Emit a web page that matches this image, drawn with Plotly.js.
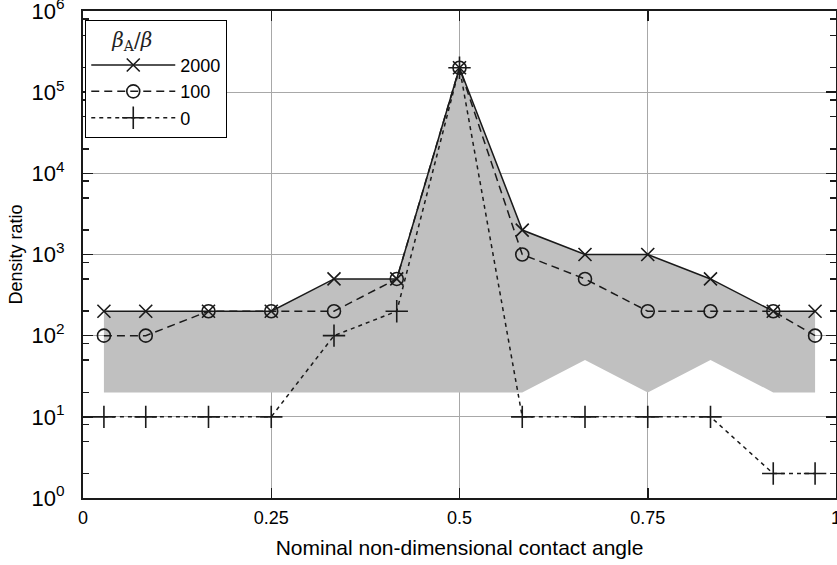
<!DOCTYPE html>
<html>
<head>
<meta charset="utf-8">
<script src="https://cdn.plot.ly/plotly-3.0.1.min.js"></script>
<style>html,body{margin:0;padding:0;background:#fff;}#chart{width:837px;height:565px;}</style>
</head>
<body>
<div id="chart"></div>
<script>
// Nominal non-dimensional contact angle (5°..175° / 180°)
var angles = [5/180, 15/180, 30/180, 45/180, 60/180, 75/180, 90/180, 105/180, 120/180, 135/180, 150/180, 165/180, 175/180];
// Density ratio series for beta_A/beta
var ratio2000 = [200, 200, 200, 200, 500, 500, 200000, 2000, 1000, 1000, 500, 200, 200];
var ratio100  = [100, 100, 200, 200, 200, 500, 200000, 1000, 500, 200, 200, 200, 100];
var ratio0    = [10, 10, 10, 10, 100, 200, 200000, 10, 10, 10, 10, 2, 2];
// Lower edge of the shaded band
var bandLower = [20, 20, 20, 20, 20, 20, 20, 20, 50, 20, 50, 20, 20];
var seriesNames = ['2000', '100', '0'];
var legendTitle = '<i>β</i><sub>A</sub>/<i>β</i>';
// Axis ticks
var xTickVals = [0, 0.25, 0.5, 0.75, 1];
var xTickText = ['0', '0.25', '0.5', '0.75', '1'];
var yDecades = [0, 1, 2, 3, 4, 5, 6];
var yMinorMult = [2, 5, 8];

var yTickVals = yDecades.map(function(e){ return Math.pow(10, e); });
var yTickText = yDecades.map(function(e){ return '10<sup>' + e + '</sup>'; });
var yMinorVals = [];
yDecades.slice(0, -1).forEach(function(e){
  yMinorMult.forEach(function(m){ yMinorVals.push(m * Math.pow(10, e)); });
});

var lineColor = '#1a1a1a';
var traces = [
  {x: angles, y: bandLower, mode: 'lines', line: {width: 0, color: 'rgba(0,0,0,0)'}, showlegend: false, hoverinfo: 'skip'},
  {x: angles, y: ratio2000, mode: 'lines', line: {width: 0, color: 'rgba(0,0,0,0)'}, fill: 'tonexty', fillcolor: '#c0c0c0', showlegend: false, hoverinfo: 'skip'},
  {x: angles, y: ratio2000, name: seriesNames[0], mode: 'lines+markers',
   line: {color: lineColor, width: 1.5},
   marker: {symbol: 'x-thin', size: 13, color: lineColor, line: {color: lineColor, width: 1.6}}},
  {x: angles, y: ratio100, name: seriesNames[1], mode: 'lines+markers',
   line: {color: lineColor, width: 1.5, dash: '8px,5px'},
   marker: {symbol: 'circle-open', size: 13, color: lineColor, line: {color: lineColor, width: 1.6}}},
  {x: angles, y: ratio0, name: seriesNames[2], mode: 'lines+markers',
   line: {color: lineColor, width: 1.5, dash: '4px,4px'},
   marker: {symbol: 'cross-thin', size: 16, color: lineColor, line: {color: lineColor, width: 1.6}}}
];

var fam = 'Liberation Sans, Arial, sans-serif';
var layout = {
  width: 837, height: 565,
  margin: {l: 83, r: 1, t: 11, b: 67, pad: 0},
  paper_bgcolor: '#fff', plot_bgcolor: '#fff',
  font: {family: fam, size: 16, color: '#000'},
  showlegend: true,
  xaxis: {
    range: [0, 1], tickvals: xTickVals, ticktext: xTickText,
    showgrid: true, gridcolor: '#a8a8a8', gridwidth: 1, zeroline: false,
    showline: true, linecolor: '#1a1a1a', linewidth: 2, mirror: 'ticks',
    ticks: 'inside', ticklen: 10, tickwidth: 1.5, tickcolor: '#1a1a1a',
    ticklabeloverflow: 'allow', ticklabelstandoff: 2,
    tickfont: {family: fam, size: 18, color: '#000'},
    title: {text: 'Nominal non-dimensional contact angle', font: {family: fam, size: 21, color: '#000'}, standoff: 14},
    automargin: false
  },
  yaxis: {
    type: 'log', range: [0, 6], tickvals: yTickVals, ticktext: yTickText,
    showgrid: true, gridcolor: '#a8a8a8', gridwidth: 1, zeroline: false,
    showline: true, linecolor: '#1a1a1a', linewidth: 2, mirror: 'ticks',
    ticks: 'inside', ticklen: 10, tickwidth: 1.5, tickcolor: '#1a1a1a',
    ticklabeloverflow: 'allow', ticklabelstandoff: 12,
    minor: {tickvals: yMinorVals, ticks: 'inside', ticklen: 6, tickwidth: 1.5, tickcolor: '#1a1a1a', showgrid: false},
    tickfont: {family: fam, size: 22, color: '#000'},
    title: {text: 'Density ratio', font: {family: fam, size: 18, color: '#000'}, standoff: 4},
    automargin: false
  },
  legend: {
    x: 0.003, y: 0.982, xanchor: 'left', yanchor: 'top',
    traceorder: 'normal',
    bgcolor: '#fff', bordercolor: '#000', borderwidth: 1,
    font: {family: fam, size: 18, color: '#000'},
    itemwidth: 84, tracegroupgap: 0,
    title: {text: '\u200b\u2003\u2009' + legendTitle, side: 'top', font: {family: 'DejaVu Serif, Liberation Serif, serif', size: 20, color: '#222'}}
  }
};

Plotly.newPlot('chart', traces, layout, {staticPlot: true, displayModeBar: false});
</script>
</body>
</html>
